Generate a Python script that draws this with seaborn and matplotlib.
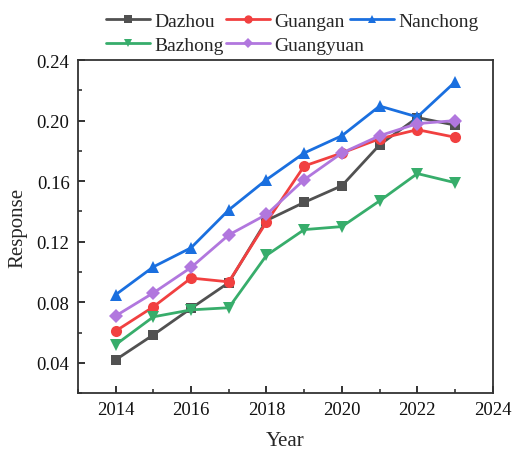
import numpy as np
import pandas as pd
import matplotlib
matplotlib.use("Agg")
import matplotlib.pyplot as plt
import seaborn as sns
from matplotlib.ticker import MultipleLocator

years = [2014, 2015, 2016, 2017, 2018, 2019, 2020, 2021, 2022, 2023]
dazhou = [0.042, 0.0585, 0.076, 0.093, 0.134, 0.146, 0.157, 0.184, 0.202, 0.197]
guangan = [0.061, 0.077, 0.096, 0.0935, 0.133, 0.170, 0.1786, 0.188, 0.194, 0.189]
nanchong = [0.085, 0.1034, 0.116, 0.141, 0.161, 0.1786, 0.190, 0.2096, 0.2024, 0.2255]
bazhong = [0.052, 0.0704, 0.075, 0.0764, 0.111, 0.128, 0.130, 0.147, 0.165, 0.159]
guangyuan = [0.071, 0.0862, 0.103, 0.1245, 0.138, 0.161, 0.1786, 0.190, 0.198, 0.200]

cities = ["Dazhou", "Guangan", "Nanchong", "Bazhong", "Guangyuan"]
series = [dazhou, guangan, nanchong, bazhong, guangyuan]
colors = ["#515151", "#F14040", "#1A6FDF", "#37AD6B", "#B177DE"]
markers = ["s", "o", "^", "v", "D"]
msizes = [7, 8, 8, 8, 7]

df = pd.DataFrame({
    "Year": np.tile(years, len(cities)),
    "Response": np.concatenate(series),
    "City": np.repeat(cities, len(years)),
})

sns.set_style("ticks")
plt.rcParams["font.family"] = ["Liberation Serif", "DejaVu Serif"]

fig = plt.figure(figsize=(5.16, 4.52), dpi=100)
ax = fig.add_axes([0.151, 0.128, 0.804, 0.737])

for city, col, mk, ms in zip(cities, colors, markers, msizes):
    sns.lineplot(data=df[df["City"] == city], x="Year", y="Response",
                 color=col, marker=mk, markersize=ms, markeredgewidth=0,
                 linewidth=2.0, label=city, ax=ax)

ax.set_xlim(2013, 2024)
ax.set_ylim(0.02, 0.24)
ax.xaxis.set_major_locator(MultipleLocator(2))
ax.xaxis.set_minor_locator(MultipleLocator(1))
ax.yaxis.set_minor_locator(MultipleLocator(0.02))
ax.set_yticks([0.04, 0.08, 0.12, 0.16, 0.20, 0.24])
ax.set_yticklabels(["0.04", "0.08", "0.12", "0.16", "0.20", "0.24"])
ax.tick_params(which="major", direction="in", length=5, width=1.3,
               labelsize=13.5, color="#222222", labelcolor="#111111",
               top=False, right=False, pad=6)
ax.tick_params(which="minor", direction="in", length=3, width=1.1,
               color="#222222", top=False, right=False)
for s in ax.spines.values():
    s.set_linewidth(1.3)
    s.set_color("#333333")

ax.set_xlabel("Year", fontsize=15, labelpad=9)
ax.set_ylabel("Response", fontsize=15, labelpad=7)

# legend entries laid out in two rows above the axes
handles, labels = ax.get_legend_handles_labels()
ax.get_legend().remove()
entry_xy = [(106, 13), (226, 13), (350, 13), (106, 37), (226, 37)]
common = dict(loc="upper left", frameon=False, fontsize=14,
              handlelength=2.25, handletextpad=0.25, borderaxespad=0,
              borderpad=0, markerscale=0.75)
for h, lab, (px, py) in zip(handles, labels, entry_xy):
    fig.legend([h], [lab], bbox_to_anchor=(px / 516, 1 - py / 452), **common)

fig.savefig("out.png", dpi=100)
